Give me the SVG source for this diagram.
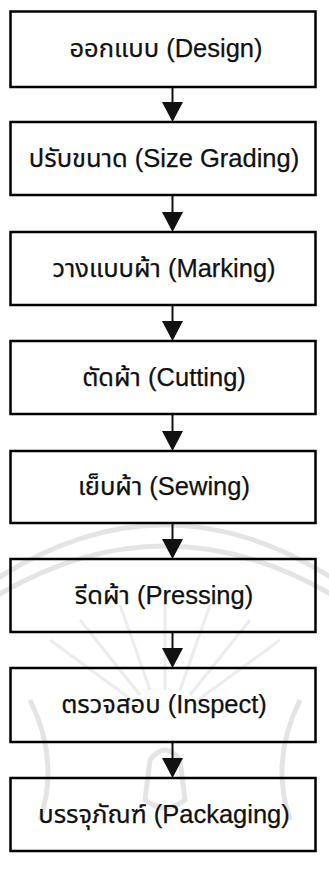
<svg xmlns="http://www.w3.org/2000/svg" width="329" height="886" viewBox="0 0 329 886">
  <defs>
    <style>
      .box { fill: none; stroke: #000; stroke-width: 2.5; }
      .lbl { font-family: "Liberation Sans", "Noto Sans Thai", "Loma", "Garuda", "Tlwg Typo", sans-serif; font-size: 25.5px; fill: #111; stroke: #111; stroke-width: 0.25; text-anchor: middle; }
      .wire { stroke: #111; stroke-width: 2; fill: none; }
      .head { fill: #111; }
      .seal { fill: none; stroke: #e4e4e4; stroke-width: 5; }
      .ray { stroke: #ececec; stroke-width: 3; }
    </style>
  </defs>
  <rect width="329" height="886" fill="#fff"/>

  <!-- faint background seal -->
  <g id="seal">
    <path class="seal" d="M -20 590 Q 165 460 350 590"/>
    <path class="seal" d="M -20 606 Q 165 486 350 606"/>
    <g class="ray">
      <line x1="165" y1="690" x2="165" y2="600"/>
      <line x1="150" y1="690" x2="120" y2="605"/>
      <line x1="180" y1="690" x2="210" y2="605"/>
      <line x1="140" y1="695" x2="80" y2="620"/>
      <line x1="190" y1="695" x2="250" y2="620"/>
      <line x1="132" y1="700" x2="50" y2="640"/>
      <line x1="198" y1="700" x2="280" y2="640"/>
    </g>
    <path class="seal" d="M 30 700 Q 60 760 40 820 M 300 700 Q 270 760 290 820"/>
    <path class="seal" d="M 150 760 Q 165 740 180 760 L 185 800 Q 165 815 145 800 Z"/>
  </g>

  <!-- connectors -->
  <g id="connectors">
    <line class="wire" x1="172.5" y1="87" x2="172.5" y2="104"/>
    <polygon class="head" points="162,102 183,102 172.5,122"/>
    <line class="wire" x1="172.5" y1="195" x2="172.5" y2="214"/>
    <polygon class="head" points="162,212 183,212 172.5,232"/>
    <line class="wire" x1="172.5" y1="305" x2="172.5" y2="323"/>
    <polygon class="head" points="162,321 183,321 172.5,341"/>
    <line class="wire" x1="172.5" y1="414" x2="172.5" y2="433"/>
    <polygon class="head" points="162,431 183,431 172.5,451"/>
    <line class="wire" x1="172.5" y1="523" x2="172.5" y2="541"/>
    <polygon class="head" points="162,539 183,539 172.5,559"/>
    <line class="wire" x1="172.5" y1="632" x2="172.5" y2="650"/>
    <polygon class="head" points="162,648 183,648 172.5,668"/>
    <line class="wire" x1="172.5" y1="742" x2="172.5" y2="760"/>
    <polygon class="head" points="162,758 183,758 172.5,778"/>
  </g>

  <g id="design">
    <rect class="box" x="10.5" y="11.5" width="305" height="75.5"/>
    <text class="lbl" x="166" y="57">ออกแบบ (Design)</text>
  </g>
  <g id="grading">
    <rect class="box" x="10.5" y="122" width="305" height="73"/>
    <text class="lbl" x="164" y="167">ปรับขนาด (Size Grading)</text>
  </g>
  <g id="marking">
    <rect class="box" x="10.5" y="232" width="305" height="73"/>
    <text class="lbl" x="164" y="277">วางแบบผ้า (Marking)</text>
  </g>
  <g id="cutting">
    <rect class="box" x="10.5" y="341" width="305" height="73"/>
    <text class="lbl" x="164" y="386">ตัดผ้า (Cutting)</text>
  </g>
  <g id="sewing">
    <rect class="box" x="10.5" y="451" width="305" height="72"/>
    <text class="lbl" x="164" y="495">เย็บผ้า (Sewing)</text>
  </g>
  <g id="pressing">
    <rect class="box" x="10.5" y="559" width="305" height="73"/>
    <text class="lbl" x="164" y="604">รีดผ้า (Pressing)</text>
  </g>
  <g id="inspect">
    <rect class="box" x="10.5" y="668" width="305" height="74"/>
    <text class="lbl" x="164" y="713">ตรวจสอบ (Inspect)</text>
  </g>
  <g id="packaging">
    <rect class="box" x="10.5" y="778" width="305" height="73"/>
    <text class="lbl" x="164" y="823">บรรจุภัณฑ์ (Packaging)</text>
  </g>
</svg>
